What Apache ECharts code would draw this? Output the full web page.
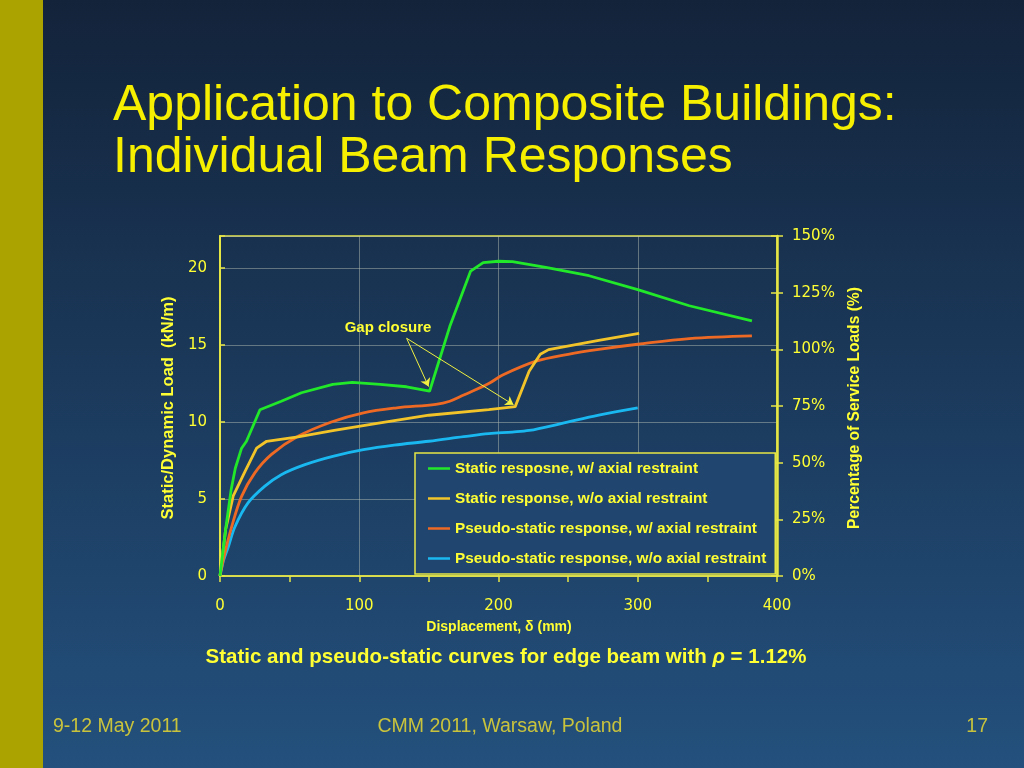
<!DOCTYPE html>
<html><head><meta charset="utf-8">
<script src="https://cdn.jsdelivr.net/npm/echarts@6/dist/echarts.min.js"></script>
<style>html,body{margin:0;padding:0;background:#1b3655}#c{width:1024px;height:768px}</style>
</head><body><div id="c"></div>
<script>
const seriesNames = [
  'Static resposne, w/ axial restraint',
  'Static response, w/o axial restraint',
  'Pseudo-static response, w/ axial restraint',
  'Pseudo-static response, w/o axial restraint'
];
const greenData = [[0,0],[4,3.0],[8,5.6],[11,7.0],[15.5,8.3],[19,8.75],[28.7,10.8],[44,11.35],[58.5,11.9],[81,12.45],[95,12.57],[115,12.44],[134,12.29],[150.5,12.0],[165,16.2],[180,19.8],[189,20.35],[200,20.44],[210,20.42],[234,20.05],[265,19.5],[300,18.6],[337,17.55],[382,16.57]];
const yellowData = [[0,0],[4,3.0],[9.5,5.2],[18,6.8],[26.3,8.3],[33.5,8.75],[56,9.03],[82,9.45],[115,9.95],[150,10.44],[193,10.8],[212,11.0],[222,13.3],[230,14.4],[236,14.7],[272,15.3],[301,15.75]];
const orangeData = [[0,0],[3,1.3],[8.4,3.2],[15.5,5.17],[25,6.7],[37,7.9],[56,9.07],[80,10.0],[103,10.6],[127,10.92],[155,11.15],[165,11.35],[175,11.75],[193,12.5],[203,13.05],[227,13.95],[250,14.4],[272,14.72],[300,15.05],[337,15.42],[382,15.6]];
const cyanData = [[0,0],[2.5,1.0],[6,1.9],[10.75,3.2],[20,4.73],[32,5.82],[44,6.58],[61,7.23],[81,7.77],[103,8.2],[125,8.5],[150,8.75],[175,9.05],[193,9.25],[210,9.35],[222,9.45],[245,9.9],[272,10.45],[300,10.92]];
const xTicks = {min:0, max:400, step:100};
const leftTicks = {min:0, max:22.08, step:5};
const rightTicks = {min:0, max:150, step:25};
const gapStart = [134, 15.44];
const gapEnds = [[149.8, 12.3], [210.8, 11.12]];

const YEL = '#ffff33';
const FRAME = '#e6e645';
const GRID = 'rgba(190,200,185,0.45)';
const chart = echarts.init(document.getElementById('c'));
const lineSeries = (name, data, color, smooth) => ({
  name, type:'line', data, yAxisIndex:0, symbol:'none', smooth: smooth,
  lineStyle:{color, width:2.8}, itemStyle:{color}, z:3, silent:true
});
const series = [
  lineSeries(seriesNames[3], cyanData, '#1ab8f0', 0.35),
  lineSeries(seriesNames[2], orangeData, '#ee6a24', 0.35),
  lineSeries(seriesNames[1], yellowData, '#f2c42a', false),
  lineSeries(seriesNames[0], greenData, '#22e82a', false)
];
series[3].markLine = {
  silent:true, symbol:['none','arrow'], symbolSize:8,
  lineStyle:{color:'#f0f040', width:1, type:'solid'}, label:{show:false},
  data: gapEnds.map(e => [{coord:gapStart},{coord:e}])
};
chart.setOption({
  animation:false,
  backgroundColor:{type:'linear',x:0,y:0,x2:0,y2:1,colorStops:[{offset:0,color:'#13233a'},{offset:1,color:'#23507d'}]},
  grid:{left:220, right:247, top:236, bottom:192, show:true, borderColor:FRAME, borderWidth:1.5, backgroundColor:'transparent'},
  xAxis:{type:'value', min:xTicks.min, max:xTicks.max, interval:xTicks.step,
    axisLine:{show:true, lineStyle:{color:FRAME, width:1.5}},
    axisTick:{show:true, length:6, lineStyle:{color:FRAME, width:1.5}},
    minorTick:{show:true, splitNumber:2, length:6, lineStyle:{color:FRAME, width:1.5}},
    splitLine:{show:true, lineStyle:{color:GRID, width:1}},
    axisLabel:{color:YEL, fontSize:15, fontFamily:'DejaVu Sans', margin:23}
  },
  yAxis:[
    {type:'value', position:'left', min:leftTicks.min, max:leftTicks.max, interval:leftTicks.step,
      axisLine:{show:true, lineStyle:{color:FRAME, width:2}},
      axisTick:{show:true, inside:true, length:5, lineStyle:{color:FRAME, width:1.5}},
      splitLine:{show:true, lineStyle:{color:GRID, width:1}},
      axisLabel:{color:YEL, fontSize:15, fontFamily:'DejaVu Sans', margin:13,
        formatter:v => (Math.abs(v % 5) < 1e-6 ? String(v) : '')}
    },
    {type:'value', position:'right', min:rightTicks.min, max:rightTicks.max, interval:rightTicks.step,
      axisLine:{show:true, lineStyle:{color:FRAME, width:2.5}},
      axisTick:{show:true, length:6, lineStyle:{color:FRAME, width:1.5}},
      splitLine:{show:false},
      axisLabel:{color:YEL, fontSize:15, fontFamily:'DejaVu Sans', margin:15, formatter:'{value}%'}
    },
    {type:'value', position:'right', min:rightTicks.min, max:rightTicks.max, interval:rightTicks.step,
      axisLine:{show:false}, axisTick:{show:true, inside:true, length:6, lineStyle:{color:FRAME, width:1.5}},
      splitLine:{show:false}, axisLabel:{show:false}
    }
  ],
  legend:{
    data: seriesNames, orient:'vertical', left:415, top:453,
    padding:[8,9,8,13], itemGap:15, itemWidth:22, itemHeight:2.5, icon:'rect',
    borderColor:FRAME, borderWidth:1.5, backgroundColor:'#20456e',
    selectedMode:false,
    textStyle:{color:YEL, fontSize:15.35, fontWeight:'bold', fontFamily:'Liberation Sans'}
  },
  series,
  graphic:[
    {type:'rect', left:0, top:0, shape:{width:43, height:768}, style:{fill:'#aba300'}, z:0},
    {type:'text', x:113, y:106, style:{text:'Application to Composite Buildings:', fill:'#f6ef00', font:'50px "Liberation Sans"', align:'left', verticalAlign:'middle'}},
    {type:'text', x:113, y:158, style:{text:'Individual Beam Responses', fill:'#f6ef00', font:'50px "Liberation Sans"', align:'left', verticalAlign:'middle'}},
    {type:'text', x:388, y:328, style:{text:'Gap closure', fill:YEL, font:'bold 15px "Liberation Sans"', align:'center', verticalAlign:'middle'}},
    {type:'text', x:499, y:627, style:{text:'Displacement, \u03b4 (mm)', fill:YEL, font:'bold 14px "Liberation Sans"', align:'center', verticalAlign:'middle'}},
    {type:'text', x:168, y:408, rotation:Math.PI/2, style:{text:'Static/Dynamic Load  (kN/m)', fill:YEL, font:'bold 16.5px "Liberation Sans"', align:'center', verticalAlign:'middle'}},
    {type:'text', x:855, y:408, rotation:Math.PI/2, style:{text:'Percentage of Service Loads (%)', fill:YEL, font:'bold 15.6px "Liberation Sans"', align:'center', verticalAlign:'middle'}},
    {type:'text', x:506, y:657, style:{text:'Static and pseudo-static curves for edge beam with {i|\u03c1} = 1.12%', fill:YEL, font:'bold 20.5px "Liberation Sans"', align:'center', verticalAlign:'middle',
      rich:{i:{fontStyle:'italic', fontWeight:'bold', fontSize:20.5, fontFamily:'Liberation Sans', fill:YEL}}}},
    {type:'text', x:53, y:727, style:{text:'9-12 May 2011', fill:'#c9c33c', font:'19.5px "Liberation Sans"', align:'left', verticalAlign:'middle'}},
    {type:'text', x:500, y:727, style:{text:'CMM 2011, Warsaw, Poland', fill:'#c9c33c', font:'19.5px "Liberation Sans"', align:'center', verticalAlign:'middle'}},
    {type:'text', x:988, y:727, style:{text:'17', fill:'#c9c33c', font:'19.5px "Liberation Sans"', align:'right', verticalAlign:'middle'}}
  ]
});
</script></body></html>
